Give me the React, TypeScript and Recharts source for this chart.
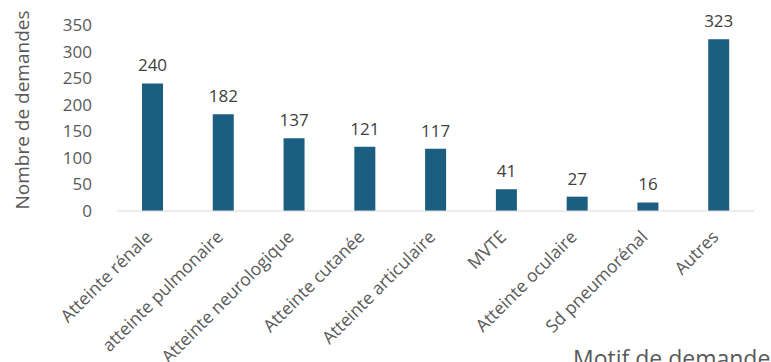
import React from 'react';
import { BarChart, Bar, XAxis, YAxis, LabelList } from 'recharts';

const categories = [
  'Atteinte rénale',
  'atteinte pulmonaire',
  'Atteinte neurologique',
  'Atteinte cutanée',
  'Atteinte articulaire',
  'MVTE',
  'Atteinte oculaire',
  'Sd pneumorénal',
  'Autres'
];
const demandes = [240, 182, 137, 121, 117, 41, 27, 16, 323];
const yTicks = [0, 50, 100, 150, 200, 250, 300, 350];

const data = categories.map((motif, i) => ({ motif, demandes: demandes[i] }));

const FONT = '"Open Sans", sans-serif';
const GREY = '#595959';

// étiquettes de catégorie inclinées à -45°
const CategoryTick = (props: any) => {
  const { x, y, payload } = props;
  return (
    <text
      transform={`translate(${x + 1},${y + 25}) rotate(-45)`}
      textAnchor="end"
      fontSize={17.5}
      fontFamily={FONT}
      fill={GREY}
    >
      {payload.value}
    </text>
  );
};

const YTitle = (props: any) => {
  const { viewBox } = props;
  const cx = viewBox.x + 22;
  const cy = viewBox.y + viewBox.height / 2 - 8;
  return (
    <text
      transform={`translate(${cx},${cy}) rotate(-90)`}
      textAnchor="middle"
      dominantBaseline="central"
      fontSize={19}
      fontFamily={FONT}
      fill={GREY}
    >
      Nombre de demandes
    </text>
  );
};

const XTitle = () => (
  <text x={573} y={367} textAnchor="start" fontSize={23} fontFamily={FONT} fill={GREY}>
    Motif de demande
  </text>
);

export default function App() {
  return (
    <div style={{ position: 'absolute', left: 0, top: 0, width: 771, height: 362, background: '#fff' }}>
      <BarChart
        width={771}
        height={362}
        data={data}
        margin={{ top: 25, right: 17, bottom: 0, left: 0 }}
        barCategoryGap="35%"
      >
        <XAxis
          dataKey="motif"
          height={151}
          interval={0}
          tickLine={false}
          tickSize={0}
          axisLine={{ stroke: '#d9d9d9', strokeWidth: 1 }}
          tick={<CategoryTick />}
          label={<XTitle />}
        />
        <YAxis
          width={117}
          domain={[0, 350]}
          ticks={yTicks}
          interval={0}
          axisLine={false}
          tickLine={false}
          tickSize={0}
          tickMargin={25}
          tick={{ fontSize: 17, fontFamily: FONT, fill: GREY }}
          label={<YTitle />}
        />
        <Bar dataKey="demandes" fill="#1b5e80" barSize={21} isAnimationActive={false}>
          <LabelList
            dataKey="demandes"
            position="top"
            offset={12}
            fontSize={17}
            fontFamily={FONT}
            fill="#404040"
          />
        </Bar>
      </BarChart>
    </div>
  );
}
